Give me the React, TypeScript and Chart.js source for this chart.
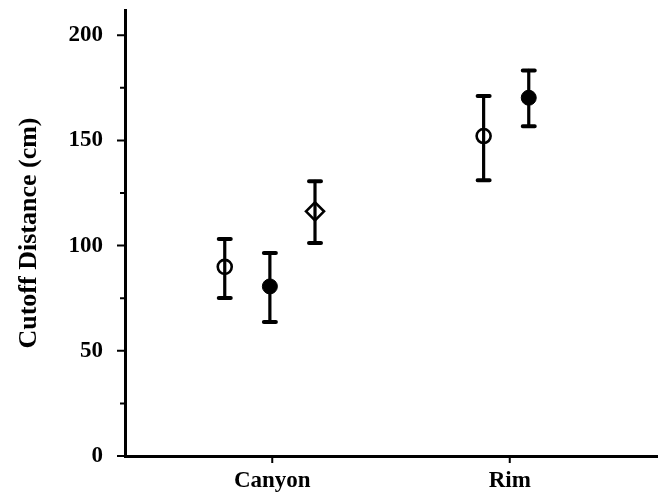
import React, { useEffect, useRef } from 'react';
import { Chart, registerables } from 'chart.js';

Chart.register(...registerables);

const categories = ['Canyon', 'Rim'];
const yMajorTicks = [0, 50, 100, 150, 200];
const yMinorTicks = [25, 75, 125, 175];

// Open circles
const openX = [0.8, 1.89];
const openMean = [89.9, 152.1];
const openLow = [75.1, 131.1];
const openHigh = [103.2, 171.1];

// Filled circles
const filledX = [0.99, 2.08];
const filledMean = [80.6, 170.3];
const filledLow = [63.7, 156.8];
const filledHigh = [96.5, 183.3];

// Open diamond
const diamondX = [1.18];
const diamondMean = [116.3];
const diamondLow = [101.3];
const diamondHigh = [130.6];

const FONT = 'Liberation Serif';
const INK = '#000';

const toPoints = (xs: number[], ys: number[]) => xs.map((x, i) => ({ x, y: ys[i] }));

const errorBarPlugin = {
  id: 'errorBars',
  beforeDatasetsDraw(chart: any) {
    const { ctx, scales } = chart;
    const xs = scales.x;
    const ys = scales.y;
    ctx.save();
    ctx.strokeStyle = INK;
    ctx.lineCap = 'round';
    chart.data.datasets.forEach((ds: any) => {
      ds.data.forEach((p: any, i: number) => {
        const px = xs.getPixelForValue(p.x);
        const pl = ys.getPixelForValue(ds.errLow[i]);
        const ph = ys.getPixelForValue(ds.errHigh[i]);
        ctx.lineWidth = 3.2;
        ctx.beginPath();
        ctx.moveTo(px, pl);
        ctx.lineTo(px, ph);
        ctx.stroke();
        ctx.lineWidth = 4;
        ctx.beginPath();
        ctx.moveTo(px - 6, pl);
        ctx.lineTo(px + 6, pl);
        ctx.moveTo(px - 6, ph);
        ctx.lineTo(px + 6, ph);
        ctx.stroke();
      });
    });
    ctx.restore();
  },
};

const tickPlugin = {
  id: 'axisTicks',
  afterDraw(chart: any) {
    const { ctx, scales, chartArea } = chart;
    const xs = scales.x;
    const ys = scales.y;
    ctx.save();
    ctx.strokeStyle = INK;
    ctx.lineWidth = 2;
    ctx.beginPath();
    yMajorTicks.forEach((v) => {
      const py = ys.getPixelForValue(v);
      ctx.moveTo(chartArea.left - 8, py);
      ctx.lineTo(chartArea.left, py);
    });
    yMinorTicks.forEach((v) => {
      const py = ys.getPixelForValue(v);
      ctx.moveTo(chartArea.left - 5, py);
      ctx.lineTo(chartArea.left, py);
    });
    categories.forEach((_, i) => {
      const px = xs.getPixelForValue(i + 1);
      ctx.moveTo(px, chartArea.bottom);
      ctx.lineTo(px, chartArea.bottom + 7);
    });
    ctx.stroke();
    ctx.restore();
  },
};

const noPad = (s: any) => {
  s.paddingTop = 0;
  s.paddingBottom = 0;
  s.paddingLeft = 0;
  s.paddingRight = 0;
};

export default function App() {
  const ref = useRef<HTMLCanvasElement | null>(null);

  useEffect(() => {
    if (!ref.current) return;
    const chart = new Chart(ref.current, {
      type: 'scatter',
      data: {
        datasets: [
          {
            label: 'Open circle',
            data: toPoints(openX, openMean),
            errLow: openLow,
            errHigh: openHigh,
            pointStyle: 'circle',
            pointRadius: 7,
            borderWidth: 2.6,
            borderColor: INK,
            backgroundColor: 'rgba(0,0,0,0)',
          } as any,
          {
            label: 'Filled circle',
            data: toPoints(filledX, filledMean),
            errLow: filledLow,
            errHigh: filledHigh,
            pointStyle: 'circle',
            pointRadius: 7.5,
            borderWidth: 1,
            borderColor: INK,
            backgroundColor: INK,
          } as any,
          {
            label: 'Open diamond',
            data: toPoints(diamondX, diamondMean),
            errLow: diamondLow,
            errHigh: diamondHigh,
            pointStyle: 'rectRot',
            pointRadius: 9,
            borderWidth: 2.6,
            borderColor: INK,
            backgroundColor: 'rgba(0,0,0,0)',
          } as any,
        ],
      },
      options: {
        animation: false,
        responsive: true,
        maintainAspectRatio: false,
        layout: { autoPadding: false, padding: { top: 10, right: 4, left: 0, bottom: 0 } },
        plugins: {
          legend: { display: false },
          tooltip: { enabled: false },
        },
        scales: {
          x: {
            type: 'linear',
            min: 0.38,
            max: 2.62,
            grid: { display: false, drawTicks: false },
            border: { display: true, color: INK, width: 3 },
            afterBuildTicks: (s: any) => {
              s.ticks = categories.map((_, i) => ({ value: i + 1 }));
            },
            afterFit: (s: any) => {
              s.height = 38;
              noPad(s);
            },
            ticks: {
              autoSkip: false,
              maxRotation: 0,
              padding: 11,
              color: INK,
              font: { family: FONT, size: 23, weight: 'bold' },
              callback: (v: any) => categories[Math.round(v) - 1] ?? '',
            },
          },
          y: {
            type: 'linear',
            min: 0,
            max: 212,
            grid: { display: false, drawTicks: false },
            border: { display: true, color: INK, width: 3 },
            afterBuildTicks: (s: any) => {
              s.ticks = yMajorTicks.map((v) => ({ value: v }));
            },
            afterFit: (s: any) => {
              s.width = 125;
              noPad(s);
            },
            ticks: {
              padding: 22,
              color: INK,
              font: { family: FONT, size: 23, weight: 'bold' },
            },
            title: {
              display: true,
              text: 'Cutoff Distance (cm)',
              color: INK,
              font: { family: FONT, size: 26, weight: 'bold' },
              padding: { top: 14, bottom: 0 },
            },
          },
        },
      } as any,
      plugins: [errorBarPlugin, tickPlugin],
    });
    return () => chart.destroy();
  }, []);

  return (
    <div style={{ position: 'absolute', left: 0, top: 0, width: 661, height: 494, background: '#fff' }}>
      <canvas ref={ref} />
    </div>
  );
}
